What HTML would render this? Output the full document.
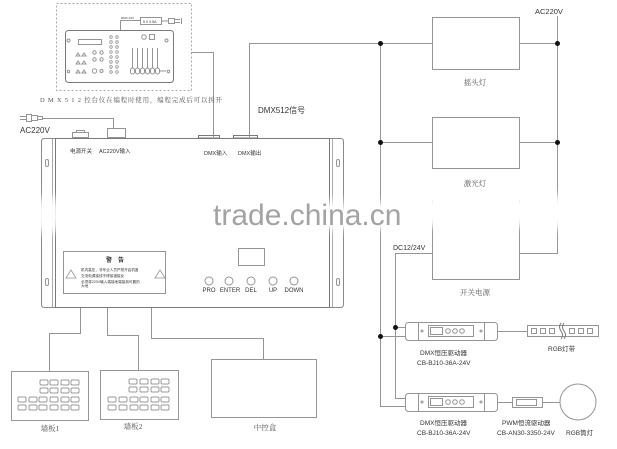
<!DOCTYPE html>
<html><head><meta charset="utf-8"><style>
html,body{margin:0;padding:0;background:#fff;}
svg{display:block;}
.s{font-family:"Liberation Sans","Noto Sans CJK SC",sans-serif;fill:#333;}
.r{font-family:"Liberation Serif","Noto Serif CJK SC",serif;fill:#555;}
</style></head><body>
<svg width="617" height="449" viewBox="0 0 617 449" xmlns="http://www.w3.org/2000/svg">
<defs>
<filter id="bl" x="-50%" y="-50%" width="200%" height="200%"><feGaussianBlur stdDeviation="4"/></filter>
<filter id="bl2" x="-20%" y="-50%" width="140%" height="200%"><feGaussianBlur stdDeviation="2"/></filter>
</defs>
<g fill="none" stroke="#959595" stroke-width="1">
<rect x="56.5" y="3.5" width="135" height="87" stroke-dasharray="2,2" stroke="#aaa"/>
<rect x="65.5" y="30.5" width="108" height="52" rx="3" stroke="#7a7a7a"/>
<rect x="78.5" y="39.5" width="23" height="5"/>
<circle cx="68.5" cy="40.5" r="1.5"/><circle cx="166.5" cy="40.5" r="1.5"/>
<circle cx="68.5" cy="71.5" r="1.2"/><circle cx="168.5" cy="71.5" r="1.2"/>
<path d="M76 56l2-3 2 3z M82 56l2-3 2 3z M76 64l2-3 2 3z M82 64l2-3 2 3z M76 73l2-3 2 3z M82 73l2-3 2 3z"/>
<circle cx="94.5" cy="52.5" r="1.7"/><circle cx="101.5" cy="52.5" r="1.7"/>
<circle cx="94.5" cy="59.5" r="1.7"/><circle cx="101.5" cy="59.5" r="1.7"/>
<circle cx="94.5" cy="71" r="2.2"/><circle cx="101.5" cy="71" r="1.5"/>
<g stroke-width="0.8">
<circle cx="111" cy="37" r="1.3"/><circle cx="117" cy="37" r="1.3"/>
<circle cx="111" cy="42" r="1.3"/><circle cx="117" cy="42" r="1.3"/>
<circle cx="111" cy="47" r="1.3"/><circle cx="117" cy="47" r="1.3"/>
<circle cx="111" cy="52" r="1.3"/><circle cx="117" cy="52" r="1.3"/>
<circle cx="111" cy="57" r="1.3"/><circle cx="117" cy="57" r="1.3"/>
<circle cx="111" cy="62" r="1.3"/><circle cx="117" cy="62" r="1.3"/>
<circle cx="111" cy="67" r="1.3"/><circle cx="117" cy="67" r="1.3"/>
<circle cx="111" cy="72" r="1.3"/><circle cx="117" cy="72" r="1.3"/>
</g>
<circle cx="144" cy="37" r="2.3"/><rect x="149.5" y="34.5" width="5" height="5"/>
<path d="M132.5 48v22 M137.5 48v22 M142.5 48v22 M147.5 48v22 M152.5 48v22 M157.5 48v22 M160 71h6"/>
<g fill="#fff">
<rect x="130.5" y="68" width="4" height="6" rx="2"/><rect x="135.5" y="68" width="4" height="6" rx="2"/>
<rect x="140.5" y="68" width="4" height="6" rx="2"/><rect x="145.5" y="68" width="4" height="6" rx="2"/>
<rect x="150.5" y="68" width="4" height="6" rx="2"/><rect x="155.5" y="68" width="4" height="6" rx="2"/>
</g>
<path d="M120.5 30V20.5H140"/>
<rect x="140.5" y="17.5" width="21" height="7"/>
<path d="M162 21h6"/>
<rect x="168.5" y="18.5" width="6" height="5"/><path d="M175 19.5h5M175 22.5h5M181.5 18v6"/>
<path d="M191 52.5H213.5V137"/>
<path d="M249.5 137V43.5H432"/>
<path d="M20 116.5h6M20 119.5h6"/><rect x="26.5" y="114.5" width="5" height="7"/><rect x="31.5" y="115.5" width="6" height="5"/><rect x="37.5" y="116.5" width="5" height="3"/>
<path d="M43 118.5H113.5V128"/>
<rect x="107.5" y="128.5" width="18" height="9"/>
<rect x="72.5" y="132.5" width="16" height="5"/><rect x="76.5" y="130.5" width="8" height="2"/>
<rect x="198.5" y="135.5" width="21" height="2.5" stroke="#7a7a7a"/>
<rect x="233.5" y="135.5" width="24" height="2.5" stroke="#7a7a7a"/>
<path d="M55.5 138.5H44.5Q41.5 138.5 41.5 141.5V304Q41.5 307.5 44.5 307.5H55.5" stroke="#8a8a8a"/>
<path d="M52.5 139V307" stroke="#aaa"/>
<path d="M329.5 138.5H340.5Q343.5 138.5 343.5 141.5V304Q343.5 307.5 340.5 307.5H329.5" stroke="#8a8a8a"/>
<path d="M332.5 139V307" stroke="#aaa"/>
<rect x="55.5" y="138.5" width="274" height="169" stroke="#7a7a7a"/>
<rect x="45.5" y="159.5" width="3" height="7" rx="1.5"/><rect x="45.5" y="278.5" width="3" height="7" rx="1.5"/>
<rect x="336.5" y="159.5" width="3" height="7" rx="1.5"/><rect x="336.5" y="278.5" width="3" height="7" rx="1.5"/>
<rect x="63.5" y="251.5" width="102" height="42"/>
<path d="M66 278l5-8 5 8z M155 278l5-8 5 8z" stroke-width="0.8"/>
<rect x="238.5" y="248.5" width="26" height="17"/>
<circle cx="209" cy="281" r="4"/><circle cx="229" cy="281" r="4"/><circle cx="251" cy="281" r="4"/><circle cx="273" cy="281" r="4"/><circle cx="294" cy="281" r="4"/>
<path d="M80.5 308V333.5H49.5V371"/>
<path d="M107.5 308V335.5H138.5V370"/>
<path d="M151.5 308V338.5H263.5V359"/>
<rect x="11.5" y="371.5" width="77" height="49"/>
<rect x="100.5" y="370.5" width="78" height="49"/>
<rect x="211.5" y="359.5" width="105" height="58"/>
<g stroke-width="0.7" stroke="#777">
<rect x="40" y="380" width="8" height="5" rx="1"/><rect x="50" y="380" width="8" height="5" rx="1"/><rect x="61" y="380" width="8" height="5" rx="1"/><rect x="71" y="380" width="8" height="5" rx="1"/>
<rect x="40" y="388" width="8" height="5" rx="1"/><rect x="50" y="388" width="8" height="5" rx="1"/><rect x="61" y="388" width="8" height="5" rx="1"/><rect x="71" y="388" width="8" height="5" rx="1"/>
<rect x="18" y="397" width="8" height="5" rx="1"/><rect x="29" y="397" width="8" height="5" rx="1"/><rect x="39" y="397" width="8" height="5" rx="1"/><rect x="50" y="397" width="8" height="5" rx="1"/><rect x="61" y="397" width="8" height="5" rx="1"/><rect x="71" y="397" width="8" height="5" rx="1"/>
<rect x="18" y="405" width="8" height="5" rx="1"/><rect x="29" y="405" width="8" height="5" rx="1"/><rect x="39" y="405" width="8" height="5" rx="1"/><rect x="50" y="405" width="8" height="5" rx="1"/><rect x="61" y="405" width="8" height="5" rx="1"/><rect x="71" y="405" width="8" height="5" rx="1"/>
<rect x="129" y="379" width="8" height="5" rx="1"/><rect x="140" y="379" width="8" height="5" rx="1"/><rect x="151" y="379" width="8" height="5" rx="1"/><rect x="161" y="379" width="8" height="5" rx="1"/>
<rect x="129" y="387" width="8" height="5" rx="1"/><rect x="140" y="387" width="8" height="5" rx="1"/><rect x="151" y="387" width="8" height="5" rx="1"/><rect x="161" y="387" width="8" height="5" rx="1"/>
<rect x="108" y="397" width="8" height="5" rx="1"/><rect x="119" y="397" width="8" height="5" rx="1"/><rect x="130" y="397" width="8" height="5" rx="1"/><rect x="140" y="397" width="8" height="5" rx="1"/><rect x="151" y="397" width="8" height="5" rx="1"/><rect x="161" y="397" width="8" height="5" rx="1"/>
<rect x="108" y="405" width="8" height="5" rx="1"/><rect x="119" y="405" width="8" height="5" rx="1"/><rect x="130" y="405" width="8" height="5" rx="1"/><rect x="140" y="405" width="8" height="5" rx="1"/><rect x="151" y="405" width="8" height="5" rx="1"/><rect x="161" y="405" width="8" height="5" rx="1"/>
</g>
<path d="M380.5 43V406.5H405"/>
<path d="M380.5 142.5H432 M519 142.5H557 M519 43.5H557"/>
<path d="M557.5 16V253.5H519"/>
<rect x="432.5" y="17.5" width="87" height="52"/>
<rect x="432.5" y="117.5" width="87" height="51"/>
<path d="M432.5 200V279.5H519.5V200"/>
<path d="M432 253.5H395.5V398.5H405"/>
<path d="M395 327.5H405 M380 336.5H405"/>
<rect x="405.5" y="322.5" width="92" height="18" rx="3"/>
<path d="M418.5 323V340 M484.5 323V340"/>
<rect x="428.5" y="325.5" width="45" height="11"/>
<rect x="430.5" y="327.5" width="12" height="7"/>
<circle cx="448" cy="331" r="2.3"/><circle cx="455" cy="331" r="2.3"/><circle cx="462" cy="331" r="2.3"/>
<circle cx="422" cy="331" r="1"/><circle cx="481" cy="331" r="1"/>
<path d="M497 331.5H527"/>
<rect x="527.5" y="325.5" width="71" height="11"/>
<rect x="531.5" y="328.5" width="5" height="5"/><rect x="540.5" y="328.5" width="5" height="5"/><rect x="549.5" y="328.5" width="5" height="5"/>
<rect x="569.5" y="328.5" width="5" height="5"/><rect x="578.5" y="328.5" width="5" height="5"/><rect x="587.5" y="328.5" width="5" height="5"/>
<path d="M561 323q-3 4 0 8q3 4 0 8 M564 323q-3 4 0 8q3 4 0 8" stroke="#777"/>
<rect x="405.5" y="393.5" width="92" height="18" rx="3"/>
<path d="M418.5 394V411 M484.5 394V411"/>
<rect x="428.5" y="396.5" width="45" height="11"/>
<rect x="430.5" y="398.5" width="12" height="7"/>
<circle cx="448" cy="402" r="2.3"/><circle cx="455" cy="402" r="2.3"/><circle cx="462" cy="402" r="2.3"/>
<circle cx="422" cy="402" r="1"/><circle cx="481" cy="402" r="1"/>
<path d="M497 402.5H512"/>
<rect x="512.5" y="397.5" width="30" height="10"/>
<rect x="516.5" y="399.5" width="20" height="6"/>
<path d="M542 402.5H560"/>
<circle cx="578" cy="402" r="18"/>
</g>
<g fill="#111">
<circle cx="380.5" cy="43.5" r="2.5"/><circle cx="557.5" cy="43.5" r="2.5"/>
<circle cx="380.5" cy="142.5" r="2.5"/><circle cx="557.5" cy="142.5" r="2.5"/>
<circle cx="395.5" cy="327.5" r="2.5"/><circle cx="380.5" cy="336.5" r="2.5"/>
</g>
<text class="s" x="143" y="23" font-size="3.5">5 V 0.5A</text>
<text class="s" x="121" y="19" font-size="3">DMX-12V</text>
<text class="r" x="40" y="102" font-size="6.5" textLength="182" lengthAdjust="spacing">D M X 5 1 2 控台仪在编程时使用，编程完成后可以拆开</text>
<text class="s" x="258" y="113" font-size="8">DMX512信号</text>
<text class="s" x="20" y="133" font-size="8" fill="#222">AC220V</text>
<text class="s" x="70" y="153" font-size="5.5">电源开关</text>
<text class="s" x="99" y="153" font-size="5.5">AC220V输入</text>
<text class="s" x="204" y="155" font-size="5.5">DMX输入</text>
<text class="s" x="238" y="155" font-size="5.5">DMX输出</text>
<text class="s" x="115" y="262" font-size="6" text-anchor="middle" font-weight="bold">警　告</text>
<text class="s" x="81" y="271" font-size="3.6">机内高压，非专业人员严禁开启机盖</text>
<text class="s" x="81" y="277" font-size="3.6">交流电源接线不得接错接反</text>
<text class="s" x="81" y="283" font-size="3.6">必须将220V输入端接地端接到可靠的</text>
<text class="s" x="81" y="287" font-size="3.6">大地</text>
<g class="s" font-size="6" text-anchor="middle" fill="#444">
<text x="209" y="292">PRO</text><text x="230" y="292">ENTER</text><text x="251" y="292">DEL</text><text x="273" y="292">UP</text><text x="294" y="292">DOWN</text>
</g>
<text class="r" x="50" y="431" font-size="7.5" text-anchor="middle">墙板1</text>
<text class="r" x="133" y="429" font-size="7.5" text-anchor="middle">墙板2</text>
<text class="r" x="265" y="430" font-size="7.5" text-anchor="middle">中控盒</text>
<text class="s" x="535" y="14" font-size="7.5" fill="#222">AC220V</text>
<text class="r" x="475" y="85" font-size="7.5" text-anchor="middle">摇头灯</text>
<text class="r" x="475" y="186" font-size="7.5" text-anchor="middle">激光灯</text>
<text class="r" x="475" y="295" font-size="7.5" text-anchor="middle">开关电源</text>
<text class="s" x="393" y="250" font-size="7" fill="#222">DC12/24V</text>
<g class="s" font-size="6.5" fill="#333">
<text x="420" y="355">DMX恒压驱动器</text>
<text x="417" y="365">CB-BJ10-36A-24V</text>
<text x="548" y="351">RGB灯带</text>
<text x="420" y="425">DMX恒压驱动器</text>
<text x="417" y="435">CB-BJ10-36A-24V</text>
<text x="502" y="425">PWM恒流驱动器</text>
<text x="497" y="435">CB-AN30-3350-24V</text>
<text x="566" y="435">RGB筒灯</text>
</g>
<g fill="#fff" filter="url(#bl)">
<ellipse cx="48" cy="215" rx="12" ry="20"/>
<ellipse cx="337" cy="215" rx="9" ry="18"/>
<ellipse cx="380" cy="215" rx="7" ry="15"/>
<ellipse cx="432" cy="212" rx="9" ry="16"/>
<ellipse cx="519" cy="212" rx="9" ry="16"/>
<ellipse cx="557" cy="212" rx="9" ry="18"/>
<rect x="436" y="196" width="80" height="12"/>
</g>
<text x="213" y="225" font-family="Liberation Sans, sans-serif" font-size="30" fill="none" stroke="#fff" stroke-width="5" filter="url(#bl2)">trade.china.cn</text>
<text x="213" y="225" font-family="Liberation Sans, sans-serif" font-size="30" fill="#a3a3a3">trade.china.cn</text>
</svg>
</body></html>
